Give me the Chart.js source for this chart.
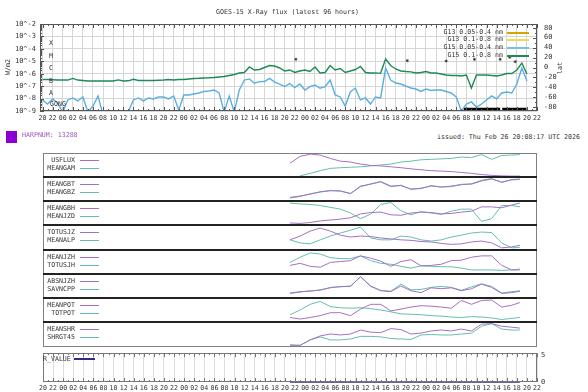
<!DOCTYPE html>
<html>
<head>
<meta charset="utf-8">
<title>GOES-15 X-Ray flux and SHARP parameters</title>
<script src="https://cdn.jsdelivr.net/npm/chart.js@4.4.1/dist/chart.umd.min.js"></script>
<style>
  html, body { margin: 0; padding: 0; background: #fff; }
  #page { position: relative; width: 588px; height: 392px; overflow: hidden;
          font-family: 'DejaVu Sans Mono', monospace; font-size: 6.6px; color: #333; }
  canvas, .txt, .box, .sep, .key { position: absolute; }
  .txt { white-space: nowrap; line-height: 1; transform: translateY(-50%); }
  .rot { transform: translate(-50%, -50%) rotate(-90deg); }
  .box { box-sizing: border-box; border: 1px solid #808080; z-index: 2; }
  .sep { height: 2px; background: #222; z-index: 3; }
  .key { height: 1px; }
</style>
</head>
<body>
<div id="page">
  <canvas id="flux" width="588" height="125" style="left:0;top:0"></canvas>
  <canvas id="rvalue" width="588" height="47" style="left:0;top:345px"></canvas>

  <div class="txt" style="left:216px;top:12px">GOES-15 X-Ray flux (latest 96 hours)</div>
  <div class="txt rot" style="left:8px;top:67px">W/m2</div>
  <div class="txt rot" style="left:560px;top:68px">lat</div>

  <div class="txt" style="left:49px;top:43px">X</div>
  <div class="txt" style="left:49px;top:55.5px">M</div>
  <div class="txt" style="left:49px;top:68px">C</div>
  <div class="txt" style="left:49px;top:80.5px">B</div>
  <div class="txt" style="left:49px;top:93px">A</div>
  <div class="txt" style="left:50px;top:104px">GONG</div>

  <div style="position:absolute;left:6px;top:131px;width:11px;height:12px;background:#8a00d4"></div>
  <div class="txt" style="left:22px;top:135px;color:#9a55c0">HARPNUM: 13288</div>
  <div class="txt" style="right:8px;top:137px">issued: Thu Feb 26 20:08:17 UTC 2026</div>

  <div class="txt" style="left:43px;top:359px">R_VALUE</div>
  <div class="key" style="left:74px;top:358px;width:21px;height:2px;background:#3b2785"></div>
</div>
<script>
// GOES-15 flux, one sample per hour starting 20:00 on the first day (log10 of W/m2)
const g15Long = [
  -6.47, -6.47, -6.49, -6.51, -6.51, -6.51, -6.38, -6.51, -6.55, -6.59,
  -6.59, -6.59, -6.59, -6.59, -6.59, -6.50, -6.59, -6.57, -6.45, -6.55,
  -6.55, -6.55, -6.55, -6.53, -6.51, -6.46, -6.51, -6.47, -6.47, -6.42,
  -6.38, -6.37, -6.34, -6.33, -6.30, -6.26, -6.22, -6.14, -6.06, -5.94,
  -5.90, -5.46, -5.70, -5.66, -5.50, -5.34, -5.38, -5.54, -5.78, -5.70,
  -5.90, -5.78, -5.70, -5.82, -5.46, -5.94, -5.90, -5.34, -5.70, -5.58,
  -5.90, -5.78, -5.66, -5.42, -5.90, -5.94, -5.93, -5.97, -4.82, -5.34,
  -5.62, -5.78, -5.82, -5.85, -5.94, -5.90, -5.82, -5.94, -5.94, -6.02,
  -6.10, -6.14, -6.14, -6.18, -6.10, -7.15, -6.10, -6.10, -6.10, -6.14,
  -6.18, -6.10, -5.98, -5.98, -5.70, -5.14, -6.02
];
const g15Short = [
  -8.11, -8.44, -8.03, -8.36, -9.08, -8.11, -7.95, -8.19, -7.87, -9.08,
  -8.60, -7.79, -9.32, -9.32, -9.32, -9.32, -9.32, -9.08, -8.11, -7.95,
  -8.19, -7.95, -8.03, -7.87, -7.87, -8.03, -7.79, -8.92, -7.71, -7.71,
  -7.63, -7.55, -7.43, -7.39, -7.31, -7.55, -9.08, -7.79, -9.08, -7.31,
  -6.51, -6.42, -6.77, -6.64, -6.63, -6.38, -6.67, -6.83, -7.03, -6.79,
  -7.11, -6.83, -7.31, -7.04, -6.91, -7.17, -7.04, -6.51, -7.71, -7.87,
  -8.60, -7.47, -7.15, -8.11, -7.95, -8.44, -7.87, -7.95, -5.54, -6.51,
  -6.75, -6.83, -6.99, -7.15, -7.23, -7.43, -7.23, -7.35, -7.31, -7.31,
  -7.43, -7.55, -7.87, -9.00, -8.44, -8.27, -8.68, -8.44, -8.11, -7.79,
  -8.03, -7.55, -7.47, -7.55, -6.83, -5.54, -6.59
];
const g13Long = [];
const g13Short = [];

// flare latitudes and the black bars near the bottom (hours since start, degrees)
const flareHour = [50.2, 72.3, 80.0, 85.6, 90.7, 92.6, 93.7];
const flareLat = [16.5, 13.7, 13.1, 16.5, 16.5, 20.5, 11.7];
const barFrom = [83.5, 91.1];
const barTo = [90.7, 95.9];
const barLat = -84;

// SHARP parameters, scaled to the height of each panel
const sharpHours = [49, 51, 53, 55, 57, 59, 61, 63, 65, 67, 69, 71, 73, 75, 77, 79, 81, 83, 85, 87, 89, 91, 93, 94.6];
const usflux  = [0.58,0.88,0.98,0.94,0.79,0.67,0.63,0.54,0.48,0.46,0.42,0.38,0.33,0.29,0.25,0.23,0.21,0.17,0.13,0.08,0.04,0.02,0.01,0.01];
const meangam = [null,0.02,0.13,0.25,0.35,0.38,0.40,0.42,0.46,0.50,0.54,0.63,0.67,0.73,0.75,0.77,0.79,0.85,0.83,0.96,0.75,0.92,0.94,0.96];
const meangbt = [0.13,0.19,0.27,0.38,0.42,0.42,0.29,0.63,0.71,0.83,0.63,0.65,0.50,0.52,0.65,0.58,0.63,0.69,0.73,0.88,0.96,0.79,0.92,0.94];
const meangbz = [0.10,0.17,0.29,0.36,0.44,0.40,0.31,0.60,0.73,0.81,0.60,0.67,0.48,0.54,0.63,0.60,0.60,0.71,0.71,0.85,0.94,0.81,0.90,0.92];
const meangbh = [0.06,0.04,0.08,0.15,0.19,0.23,0.29,0.46,0.52,0.54,0.42,0.40,0.50,0.54,0.52,0.46,0.48,0.54,0.58,0.77,0.77,0.73,0.85,0.94];
const meanjzd = [0.94,0.90,0.88,0.83,0.75,0.67,0.50,0.25,0.45,0.88,0.96,0.60,0.42,0.56,0.50,0.44,0.58,0.67,0.67,0.13,0.25,0.83,0.83,0.77];
const totusjz = [0.40,0.56,0.77,0.90,0.77,0.60,0.52,0.56,0.54,0.48,0.44,0.40,0.38,0.33,0.31,0.25,0.21,0.23,0.31,0.35,0.27,0.06,0.10,0.17];
const meanalp = [0.40,0.27,0.23,0.40,0.56,0.69,0.81,0.94,0.48,0.40,0.40,0.56,0.52,0.40,0.35,0.40,0.52,0.60,0.69,0.73,0.71,0.27,0.06,0.08];
const meanjzh = [0.35,0.44,0.31,0.27,0.48,0.52,0.56,0.77,0.67,0.54,0.31,0.52,0.60,0.33,0.35,0.40,0.56,0.58,0.71,0.77,0.77,0.35,0.15,0.15];
const totusjh = [0.48,0.71,0.90,0.85,0.69,0.65,0.65,0.77,0.56,0.44,0.40,0.31,0.23,0.33,0.31,0.29,0.29,0.23,0.15,0.15,0.15,0.13,0.15,0.19];
const absnjzh = [0.19,0.25,0.27,0.33,0.42,0.48,0.48,0.92,0.50,0.29,0.25,0.50,0.29,0.21,0.42,0.38,0.42,0.29,0.38,0.58,0.44,0.17,0.21,0.27];
const savncpp = [0.17,0.23,0.29,0.31,0.44,0.46,0.50,0.90,0.48,0.31,0.27,0.58,0.33,0.35,0.44,0.48,0.44,0.31,0.46,0.60,0.48,0.19,0.25,0.29];
const meanpot = [0.17,0.10,0.17,0.25,0.38,0.38,0.25,0.54,0.75,0.75,0.46,0.54,0.63,0.69,0.67,0.63,0.58,0.92,0.75,0.92,0.94,0.63,0.71,0.83];
const totpot  = [0.29,0.50,0.75,0.88,0.65,0.60,0.58,0.60,0.56,0.50,0.42,0.33,0.31,0.29,0.25,0.23,0.19,0.17,0.21,0.19,0.15,0.08,0.13,0.17];
const meanshr = [0.06,0.04,0.27,0.44,0.52,0.48,0.52,0.69,0.60,0.58,0.75,0.71,0.52,0.56,0.65,0.69,0.65,0.73,0.65,0.94,0.96,0.85,0.81,0.77];
const shrgt45 = [0.04,0.04,0.27,0.40,0.27,0.27,0.31,0.42,0.42,0.40,0.33,0.31,0.29,0.48,0.50,0.48,0.48,0.52,0.56,0.85,0.96,0.73,0.69,0.69];
const rValue  = [0,0,0,0,0,0,0,0,0,0,0,0,0,0,0,0,0,0,0,0,0,0,0,0];

const panelNames = [
  ['USFLUX', 'MEANGAM'], ['MEANGBT', 'MEANGBZ'], ['MEANGBH', 'MEANJZD'], ['TOTUSJZ', 'MEANALP'],
  ['MEANJZH', 'TOTUSJH'], ['ABSNJZH', 'SAVNCPP'], ['MEANPOT', 'TOTPOT'], ['MEANSHR', 'SHRGT45']
];
const panelSeries = [
  [usflux, meangam], [meangbt, meangbz], [meangbh, meanjzd], [totusjz, meanalp],
  [meanjzh, totusjh], [absnjzh, savncpp], [meanpot, totpot], [meanshr, shrgt45]
];

const fluxKeys = ['G13 0.05-0.4 nm', 'G13 0.1-0.8 nm', 'G15 0.05-0.4 nm', 'G15 0.1-0.8 nm'];
const fluxColors = ['#d9a400', '#eadc55', '#74c2e6', '#1e8a58'];
const PURPLE = '#a56fc6';
const TEAL = '#63bfae';
const FONT = { family: 'DejaVu Sans Mono', size: 6.6 };
const hourLabel = v => String((20 + v) % 24).padStart(2, '0');

// frame, hour ticks on top/bottom, log minor ticks on the left
const frameTicks = {
    id: 'frameTicks',
    afterDatasetsDraw(chart, args, opts) {
        const { ctx, chartArea: a, scales } = chart;
        const xs = scales.x;
        ctx.save();
        ctx.strokeStyle = opts.color;
        ctx.lineWidth = 1;
        ctx.beginPath();
        for (let h = Math.ceil(xs.min); h <= xs.max; h++) {
            const px = Math.round(xs.getPixelForValue(h)) + 0.5;
            const len = h % 2 === 0 ? 4 : 2;
            ctx.moveTo(px, a.top); ctx.lineTo(px, a.top + len);
            ctx.moveTo(px, a.bottom); ctx.lineTo(px, a.bottom - len);
        }
        if (opts.logLeft) {
            const ys = scales.y;
            for (let d = ys.min; d < ys.max; d++) {
                for (let k = 1; k < 10; k++) {
                    const py = Math.round(ys.getPixelForValue(d + Math.log10(k))) + 0.5;
                    ctx.moveTo(a.left, py); ctx.lineTo(a.left + (k === 1 ? 4 : 2), py);
                }
            }
        }
        if (opts.latRight) {
            const ls = scales.lat;
            for (let v = -80; v <= 80; v += 10) {
                const py = Math.round(ls.getPixelForValue(v)) + 0.5;
                ctx.moveTo(a.right, py); ctx.lineTo(a.right - (v % 20 === 0 ? 4 : 2), py);
            }
        }
        ctx.stroke();
        ctx.strokeRect(Math.round(a.left) + 0.5, Math.round(a.top) + 0.5,
                       Math.round(a.width) - 1, Math.round(a.height) - 1);
        ctx.restore();
    }
};

const page = document.getElementById('page');
function addDiv(cls, style, text) {
    const d = document.createElement('div');
    d.className = cls;
    d.setAttribute('style', style);
    if (text) d.textContent = text;
    page.appendChild(d);
    return d;
}

// ---- GOES flux chart ----
const hourly = vals => vals.map((v, h) => ({ x: h, y: v }));
const flareDots = flareHour.map((h, i) => ({ x: h, y: flareLat[i] }));

const fluxDatasets = [
    { data: hourly(g13Short), borderColor: fluxColors[0] },
    { data: hourly(g13Long), borderColor: fluxColors[1] },
    { data: hourly(g15Long), borderColor: fluxColors[3], borderWidth: 1.4 },
    { data: hourly(g15Short), borderColor: '#5aafe0', borderWidth: 1.4 },
    { type: 'scatter', data: flareDots, yAxisID: 'lat', pointStyle: 'star',
      pointRadius: 1.5, borderColor: '#333', borderWidth: 0.8 }
];
barFrom.forEach((h, i) => {
    fluxDatasets.push({ data: [{ x: h, y: barLat }, { x: barTo[i], y: barLat }],
        yAxisID: 'lat', borderColor: '#000', borderWidth: 3 });
});

new Chart(document.getElementById('flux'), {
    type: 'line',
    data: { datasets: fluxDatasets },
    options: {
        responsive: false, animation: false, events: [],
        layout: { padding: { top: 24, left: 0, right: 0, bottom: 0 } },
        elements: { point: { radius: 0 }, line: { borderWidth: 1, tension: 0 } },
        plugins: { legend: { display: false }, tooltip: { enabled: false },
                   frameTicks: { color: '#555', logLeft: true, latRight: true } },
        scales: {
            x: { type: 'linear', min: -0.5, max: 98,
                 afterFit: s => { s.height = 14; },
                 grid: { color: '#d6d6d6', drawTicks: false }, border: { display: false },
                 ticks: { stepSize: 2, autoSkip: false, maxRotation: 0, includeBounds: false,
                          padding: 3, font: FONT, color: '#333', callback: hourLabel } },
            y: { position: 'left', min: -9, max: -2,
                 afterFit: s => { s.width = 40; },
                 grid: { color: '#d6d6d6', drawTicks: false }, border: { display: false },
                 ticks: { stepSize: 1, autoSkip: false, padding: 4,
                          font: { family: 'DejaVu Sans Mono', size: 7 },
                          color: '#333', callback: v => '10^' + v } },
            lat: { position: 'right', min: -87.5, max: 87.5,
                   afterFit: s => { s.width = 51; },
                   grid: { display: false, drawTicks: false }, border: { display: false },
                   ticks: { stepSize: 20, autoSkip: false, includeBounds: false, padding: 7,
                            font: { family: 'DejaVu Sans Mono', size: 7 }, color: '#333' } }
        }
    },
    plugins: [frameTicks]
});

// legend of the flux chart
fluxKeys.forEach((name, i) => {
    const y = 31.7 + i * 7.6;
    addDiv('txt', `right:${588 - 503}px;top:${y}px`, name);
    addDiv('key', `left:507px;top:${Math.round(y)}px;width:22px;height:1.5px;background:${fluxColors[i]}`);
});

// ---- SHARP panels ----
const panelTops = [153, 177, 201, 225, 250, 274, 298, 322, 347];
panelSeries.forEach((pair, i) => {
    const top = panelTops[i];
    const h = panelTops[i + 1] - top;
    const cv = document.createElement('canvas');
    cv.width = 494; cv.height = h;
    cv.style.left = '43px'; cv.style.top = top + 'px';
    page.appendChild(cv);
    new Chart(cv, {
        type: 'line',
        data: { datasets: pair.map((vals, j) => ({
            data: vals.map((v, k) => ({ x: sharpHours[k], y: v })),
            borderColor: j === 0 ? PURPLE : TEAL, borderWidth: 1, pointRadius: 0
        })) },
        options: {
            responsive: false, animation: false, events: [],
            plugins: { legend: { display: false }, tooltip: { enabled: false } },
            scales: { x: { type: 'linear', min: 0, max: 98, display: false },
                      y: { min: -0.03, max: 1.03, display: false } }
        }
    });
    panelNames[i].forEach((name, j) => {
        const y = top + 7.3 + j * 8;
        addDiv('txt', `right:${588 - 75}px;top:${y}px`, name);
        addDiv('key', `left:80px;top:${Math.round(y)}px;width:19px;background:${j === 0 ? PURPLE : TEAL}`);
    });
});
addDiv('box', 'left:43px;top:153px;width:494px;height:194px');
panelTops.slice(1, -1).forEach(y => addDiv('sep', `left:43px;top:${y - 1}px;width:494px`));

// ---- R_VALUE strip with the bottom time axis ----
new Chart(document.getElementById('rvalue'), {
    type: 'line',
    data: { datasets: [{ data: rValue.map((v, k) => ({ x: sharpHours[k], y: v })),
                         borderColor: '#3b2785', borderWidth: 1.5, pointRadius: 0, clip: false }] },
    options: {
        responsive: false, animation: false, events: [],
        layout: { padding: { top: 6, left: 43, right: 0, bottom: 0 } },
        plugins: { legend: { display: false }, tooltip: { enabled: false },
                   frameTicks: { color: '#777' } },
        scales: {
            x: { type: 'linear', min: 0, max: 98,
                 afterFit: s => { s.height = 10; },
                 grid: { color: '#dedede', drawTicks: false }, border: { display: false },
                 ticks: { stepSize: 2, autoSkip: false, maxRotation: 0, padding: 2,
                          font: FONT, color: '#333', callback: hourLabel } },
            y: { position: 'right', min: 0, max: 5.4,
                 afterFit: s => { s.width = 51; },
                 grid: { display: false, drawTicks: false }, border: { display: false },
                 ticks: { stepSize: 5, autoSkip: false, includeBounds: false, padding: 4,
                          font: { family: 'DejaVu Sans Mono', size: 7 }, color: '#333' } }
        }
    },
    plugins: [frameTicks]
});
</script>
</body>
</html>
